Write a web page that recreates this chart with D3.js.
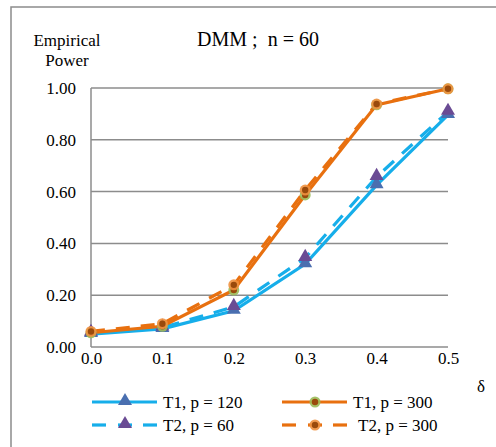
<!DOCTYPE html>
<html><head><meta charset="utf-8">
<script src="https://cdn.jsdelivr.net/npm/d3@7"></script>
<style>body{margin:0;background:#fff}svg{display:block}text{font-family:"Liberation Serif","Times New Roman",serif;fill:#000}</style>
</head><body><svg id="c" width="496" height="447"></svg>
<script>
const deltas = [0.0, 0.1, 0.2, 0.3, 0.4, 0.5];
const xTicks = ["0.0","0.1","0.2","0.3","0.4","0.5"];
const yTicks = [0, 0.2, 0.4, 0.6, 0.8, 1.0];
const seriesNames = ["T1, p = 120", "T2, p = 60", "T1, p = 300", "T2, p = 300"];
const t1p120 = [0.05, 0.07, 0.14, 0.32, 0.625, 0.896];
const t2p60  = [0.055, 0.075, 0.155, 0.344, 0.657, 0.908];
const t1p300 = [0.055, 0.08, 0.22, 0.587, 0.935, 0.997];
const t2p300 = [0.06, 0.09, 0.24, 0.606, 0.938, 0.997];

const svg = d3.select("#c");
svg.append("rect").attr("x",11).attr("y",7).attr("width",500).attr("height",460)
  .attr("fill","none").attr("stroke","#8c8c8c").attr("stroke-width",1.5);

const x = d3.scaleLinear().domain([0,0.5]).range([91,448]);
const y = d3.scaleLinear().domain([0,1]).range([347,88]);

svg.append("g").selectAll("line").data(yTicks).join("line")
  .attr("x1",91).attr("x2",448).attr("y1",d=>y(d)).attr("y2",d=>y(d))
  .attr("stroke","#8c8c8c").attr("stroke-width",1.5);
svg.append("line").attr("x1",91).attr("x2",91).attr("y1",88).attr("y2",347)
  .attr("stroke","#8c8c8c").attr("stroke-width",1.5);

const yAxis = svg.append("g").attr("transform","translate(91,0)")
  .call(d3.axisLeft(y).tickValues(yTicks).tickFormat(d3.format(".2f")).tickSize(0).tickPadding(15));
yAxis.select(".domain").remove();
yAxis.selectAll("text").attr("font-size",17);

const xAxis = svg.append("g").attr("transform","translate(0,347)")
  .call(d3.axisBottom(x).tickValues(deltas).tickFormat((d,i)=>xTicks[i]).tickSize(0).tickPadding(5));
xAxis.select(".domain").remove();
xAxis.selectAll("text").attr("font-size",17);

svg.append("text").attr("x",258).attr("y",46).attr("text-anchor","middle").attr("font-size",20).text("DMM ;\u00a0 n = 60");
svg.append("text").attr("x",67).attr("y",46).attr("text-anchor","middle").attr("font-size",17).text("Empirical");
svg.append("text").attr("x",67).attr("y",66).attr("text-anchor","middle").attr("font-size",17).text("Power");
svg.append("text").attr("x",481).attr("y",392).attr("text-anchor","middle").attr("font-size",17).text("δ");

const blue = "#16aeea", orange = "#e8700f";
const series = [
  {name: seriesNames[0], vals: t1p120, color: blue, dash: null, marker: "tri", mfill: "#4a6fb0"},
  {name: seriesNames[1], vals: t2p60, color: blue, dash: "14,11", marker: "tri", mfill: "#6a4b94"},
  {name: seriesNames[2], vals: t1p300, color: orange, dash: null, marker: "circ", mfill: "#9bbb59", inner: "#9a4a0c"},
  {name: seriesNames[3], vals: t2p300, color: orange, dash: "14,11", marker: "circ", mfill: "#f0913f", inner: "#9a4a0c"}
];
const line = d3.line().x((d,i)=>x(deltas[i])).y(d=>y(d));
const tri = d3.symbol().type(d3.symbolTriangle).size(85);

function drawMarker(g, s, cx, cy){
  if(s.marker==="tri"){
    g.append("path").attr("d",tri).attr("transform",`translate(${cx},${cy-1})`).attr("fill",s.mfill);
  } else {
    g.append("circle").attr("cx",cx).attr("cy",cy).attr("r",5.5).attr("fill",s.mfill).attr("opacity",0.9);
    g.append("circle").attr("cx",cx).attr("cy",cy).attr("r",3.2).attr("fill",s.inner);
  }
}

series.forEach(s=>{
  svg.append("path").datum(s.vals).attr("d",line).attr("fill","none")
    .attr("stroke",s.color).attr("stroke-width",3.2).attr("stroke-dasharray",s.dash);
});
series.forEach(s=>{
  const g = svg.append("g");
  s.vals.forEach((v,i)=>drawMarker(g,s,x(deltas[i]),y(v)));
});

const legPos = [[92,402],[92,425],[282,402],[282,425]];
series.forEach((s,i)=>{
  const [lx,ly] = legPos[i];
  const g = svg.append("g");
  if(s.dash){
    [[0,14],[26,40],[51,65]].forEach(([a,b])=>g.append("line").attr("x1",lx+a).attr("x2",lx+b)
      .attr("y1",ly).attr("y2",ly).attr("stroke",s.color).attr("stroke-width",3.2));
  } else {
    g.append("line").attr("x1",lx).attr("x2",lx+65).attr("y1",ly).attr("y2",ly)
      .attr("stroke",s.color).attr("stroke-width",3.2);
  }
  drawMarker(g,s,lx+33,ly);
  g.append("text").attr("x",lx+(i===3?76:71)).attr("y",ly+6).attr("font-size",17).text(s.name);
});
</script></body></html>
